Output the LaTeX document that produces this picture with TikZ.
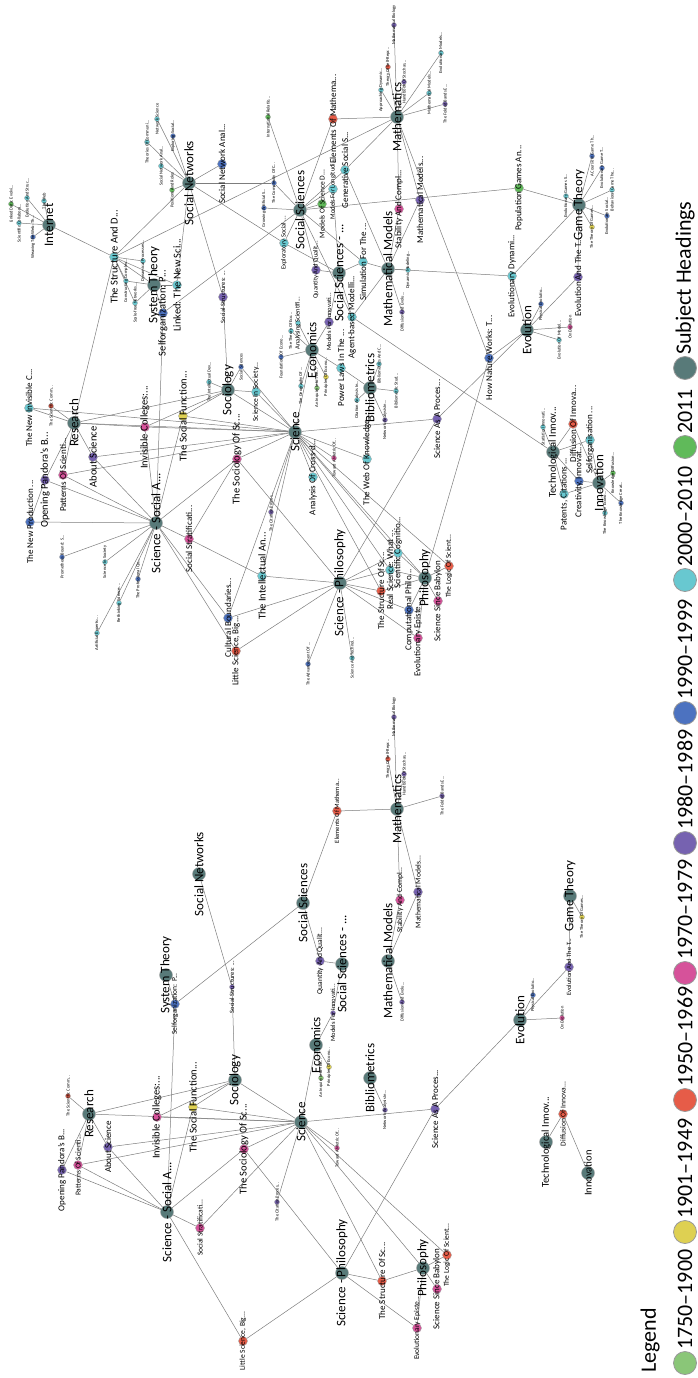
\documentclass[tikz,border=0pt]{standalone}
\usepackage{fontspec}
\setmainfont{Carlito}
\usetikzlibrary{backgrounds}

\definecolor{subjc}{RGB}{88,122,121}
\definecolor{yr2011}{RGB}{96,186,90}
\definecolor{yr2000}{RGB}{104,200,208}
\definecolor{yr1990}{RGB}{76,114,192}
\definecolor{yr1980}{RGB}{118,98,176}
\definecolor{yr1970}{RGB}{214,82,154}
\definecolor{yr1950}{RGB}{230,92,72}
\definecolor{yr1901}{RGB}{222,208,82}
\definecolor{yr1750}{RGB}{138,198,120}
\definecolor{edgec}{RGB}{125,125,125}

\tikzset{
  hub/.style={circle, draw=gray!70, fill=subjc, minimum size=13pt, inner sep=0pt},
  mid/.style={circle, draw=gray!70, fill=#1, minimum size=9pt, inner sep=0pt},
  sm/.style={circle, draw=gray!70, fill=#1, minimum size=5pt, inner sep=0pt},
  hlab/.style={label={[rotate=90, inner sep=0pt, font=\fontsize{13}{13}\selectfont]center:#1}},
  klab/.style={label={[rotate=90, inner sep=0pt, font=\fontsize{10.5}{10.5}\selectfont]center:#1}},
  mlab/.style={label={[rotate=90, inner sep=0pt, font=\fontsize{9}{9}\selectfont]center:#1}},
  nlab/.style={label={[rotate=90, inner sep=0pt, font=\fontsize{7.5}{7.5}\selectfont]center:#1}},
  llab/.style={label={[rotate=90, inner sep=0pt, font=\fontsize{6.5}{6.5}\selectfont]center:#1}},
  slab/.style={label={[rotate=90, inner sep=0pt, font=\fontsize{4.5}{4.5}\selectfont]center:#1}},
  link/.style={draw=edgec, line width=0.5pt},
  legdot/.style={circle, draw=gray!80, line width=0.8pt, fill=#1, minimum size=23pt, inner sep=0pt},
  legtxt/.style={rotate=90, anchor=west, inner sep=0pt, font=\fontsize{22}{22}\selectfont}
}

\begin{document}
\begin{tikzpicture}[x=1pt, y=-1pt]
  \useasboundingbox (0,0) rectangle (697,1378);

  % ---- full network: internet and networks
  \node[hub, hlab=Internet] (tInternet) at (49,225) {};
  \node[sm=yr2011, slab={Linked Data: Evolvi...}] (tLinkedData) at (11,204) {};
  \node[sm=yr2000, slab={Scientific Collabora...}] (tSciCollab) at (19,223) {};
  \node[sm=yr2000, slab={Evolution And Struc...}] (tEvolStruc) at (27,198) {};
  \node[sm=yr2000, slab={The Web}] (tWeb) at (44,201) {};
  \node[sm=yr1990, slab={Weaving The Web: Th...}] (tWeaving) at (33,237) {};
  \node[mid=yr2000, klab={The Structure And D...}] (tStructD) at (114,257) {};
  \node[sm=yr2000, slab={Constructing Complex...}] (tConstruct) at (126,281) {};
  \node[sm=yr2000, slab={Dynamical Processes...}] (tDynProc) at (143,261) {};
  \node[sm=yr2000, slab={Scale-free Networks...}] (tScaleFree) at (135,303) {};
  \node[hub, hlab={System Theory}] (tSysTheory) at (154,285) {};
  \node[mid=yr1990, klab={Selforganization: P...}] (tSelforg) at (163,313) {};
  \node[mid=yr2000, klab={Linked: The New Sci...}] (tLinked) at (177,285) {};
  \node[hub, hlab={Social Networks}] (tSocNet) at (189,183) {};
  \node[mid=yr1990, mlab={Social Network Anal...}] (tSNAbig) at (222,164) {};
  \node[mid=yr1980, llab={Social Structures: ...}] (tSocStruct) at (223,297) {};
  \node[sm=yr2000, slab={Theories Of Communi...}] (tTheories) at (147,142) {};
  \node[sm=yr2000, slab={Network Science}] (tNetSci) at (157,119) {};
  \node[sm=yr2000, slab={Social Network Anal...}] (tSNAsm) at (161,166) {};
  \node[sm=yr1990, slab={Exploring Social...}] (tExplSoc) at (173,136) {};
  \node[sm=yr2011, slab={Positions And Roles}] (tPositions) at (172,190) {};

  % ---- social sciences
  \node[sm=yr2011, slab={International Relatio...}] (tIntRel) at (268,117) {};
  \node[hub, hlab={Social Sciences}] (tSocSci) at (300,210) {};
  \node[sm=yr1990, slab={The Complexity Of C...}] (tComplexity) at (274,183) {};
  \node[sm=yr1990, slab={Growing Artificial S...}] (tGrowing) at (264,208) {};
  \node[mid=yr2000, llab={Exploratory Social ...}] (tExploratory) at (284,243) {};
  \node[mid=yr2011, nlab={Models Of Science D...}] (tModelsSci) at (322,204) {};
  \node[mid=yr2000, llab={Models For Longitudi...}] (tModelsLong) at (333,189) {};
  \node[mid=yr2000, mlab={Generative Social S...}] (tGenerative) at (345,170) {};
  \node[mid=yr1950, mlab={Elements Of Mathema...}] (tElements) at (333,119) {};
  \node[mid=yr1980, llab={Quantity And Qualit...}] (tQuantity) at (316,270) {};
  \node[hub, hlab={Social Sciences - ...}] (tSocSciD) at (339,273) {};
  \node[mid=yr2000, mlab={Simulation For The ...}] (tSimulation) at (363,262) {};
  \node[mid=yr2000, mlab={Agent-based Modelli...}] (tAgent) at (352,317) {};
  \node[mid=yr1980, llab={Models For Innovati...}] (tModelsInnov) at (329,322) {};

  % ---- mathematics
  \node[hub, hlab=Mathematics] (tMath) at (397,117) {};
  \node[sm=yr2000, slab={Approaching Dynamic...}] (tApproach) at (381,90) {};
  \node[sm=yr1950, slab={Theory Of Self-Repr...}] (tSelfRepr) at (388,67) {};
  \node[sm=yr1980, slab={Mathematical Biology}] (tMathBio) at (394,25) {};
  \node[sm=yr1980, slab={Handbook Of Stochas...}] (tHandbook) at (404,82) {};
  \node[sm=yr2000, slab={Evolutionary Models...}] (tEvolModels) at (441,53) {};
  \node[sm=yr2000, slab={Mathematical Models...}] (tMathModSm) at (429,93) {};
  \node[sm=yr1980, slab={The Folded Bands E...}] (tFolded) at (445,104) {};
  \node[hub, hlab={Mathematical Models}] (tMathMod) at (388,269) {};
  \node[mid=yr1970, mlab={Stability And Compl...}] (tStability) at (399,209) {};
  \node[mid=yr1980, mlab={Mathematical Models...}] (tMathModP) at (420,200) {};
  \node[sm=yr2000, slab={Dynamic Modeling...}] (tDynModel) at (408,270) {};
  \node[sm=yr1980, slab={Diffusion And Evolu...}] (tDiffEvol) at (402,312) {};

  % ---- game theory, evolution
  \node[mid=yr2011, mlab={Population Games An...}] (tPopGames) at (519,188) {};
  \node[hub, hlab={Game Theory}] (tGame) at (579,205) {};
  \node[mid=yr2000, mlab={Evolutionary Dynami...}] (tEvolDyn) at (512,276) {};
  \node[mid=yr1980, mlab={Evolution And The T...}] (tEvolTheT) at (578,277) {};
  \node[hub, hlab=Evolution] (tEvol) at (527,330) {};
  \node[sm=yr1990, slab={Physical Evolutio...}] (tPhysEvol) at (541,304) {};
  \node[sm=yr1970, slab={On Evolution}] (tOnEvol) at (570,327) {};
  \node[sm=yr2000, slab={Evolution Of Model...}] (tEvolModel) at (559,340) {};
  \node[sm=yr2000, slab={Evolutionary Games S...}] (tEvolGameSm) at (566,196) {};
  \node[sm=yr1990, slab={A Course In Game Th...}] (tCourse) at (592,156) {};
  \node[sm=yr1990, slab={Evolutionary Game T...}] (tEvolGame) at (602,168) {};
  \node[sm=yr2000, slab={Behavioral Game The...}] (tBehav) at (612,190) {};
  \node[sm=yr1990, slab={Evolutionary Social...}] (tEvolSoc) at (607,216) {};
  \node[sm=yr1901, slab={The Theory Of Games...}] (tTheoryGames) at (592,227) {};

  % ---- innovation
  \node[mid=yr1990, mlab={How Nature Works: T...}] (tHowNature) at (489,358) {};
  \node[hub, klab={Technological Innov...}] (tTechInnov) at (553,452) {};
  \node[sm=yr2000, slab={Statistical Innovati...}] (tStatInnov) at (543,427) {};
  \node[mid=yr1950, mlab={Diffusion Of Innova...}] (tDiffInnov) at (573,424) {};
  \node[mid=yr2000, mlab={Selforganisation ...}] (tSelforgan) at (590,440) {};
  \node[mid=yr1990, mlab={Creativity, Innovat...}] (tCreativity) at (579,481) {};
  \node[mid=yr2000, mlab={Patents, Citations ...}] (tPatents) at (564,494) {};
  \node[hub, hlab=Innovation] (tInnov) at (599,483) {};
  \node[sm=yr2011, slab={Knowledge Diffusion...}] (tKnowDiff) at (613,473) {};
  \node[sm=yr1990, slab={The Knowledge Creat...}] (tKnowCreat) at (621,503) {};
  \node[sm=yr2000, slab={The Knowledge Econo...}] (tKnowEcon) at (605,513) {};

  % ---- research, science and society
  \node[hub, hlab=Research] (tResearch) at (74,423) {};
  \node[mid=yr2000, mlab={The New Invisible C...}] (tNewInvis) at (29,408) {};
  \node[sm=yr1950, slab={The Scientific Comm...}] (tSciComm) at (51,406) {};
  \node[mid=yr1980, klab={About Science}] (tAbout) at (93,457) {};
  \node[mid=yr1980, klab={Opening Pandora's B...}] (tPandora) at (45,480) {};
  \node[mid=yr1970, mlab={Patterns Of Scienti...}] (tPatterns) at (63,475) {};
  \node[mid=yr1990, mlab={The New Production ...}] (tNewProd) at (30,522) {};
  \node[hub, hlab={Science - Social A...}] (tSciSoc) at (156,523) {};
  \node[mid=yr1970, klab={Invisible Colleges:...}] (tInvisible) at (145,427) {};
  \node[mid=yr1901, klab={The Social Function...}] (tSocFunc) at (183,416) {};
  \node[hub, hlab=Sociology] (tSociology) at (228,390) {};
  \node[sm=yr2000, slab={The Intellectual Dev...}] (tIntellDev) at (209,382) {};
  \node[sm=yr1990, slab={Prometheus Bound: S...}] (tPrometheus) at (62,557) {};
  \node[sm=yr2000, slab={Science In Society}] (tSciSociety) at (105,562) {};
  \node[sm=yr1990, slab={The Professional Qu...}] (tProfQu) at (138,579) {};
  \node[sm=yr2000, slab={Rethinking Science:...}] (tRethinking) at (119,603) {};
  \node[sm=yr2000, slab={Artificial Experts:...}] (tArtificial) at (97,633) {};
  \node[mid=yr1970, mlab={Social Stratificati...}] (tSocStrat) at (189,539) {};
  \node[mid=yr1990, mlab={Cultural Boundaries...}] (tCultural) at (228,618) {};
  \node[mid=yr1950, mlab={Little Science, Big...}] (tLittle) at (236,651) {};
  \node[mid=yr1970, klab={The Sociology Of Sc...}] (tSociolSc) at (237,459) {};

  % ---- science, economics, bibliometrics
  \node[hub, hlab=Science] (tScience) at (295,432) {};
  \node[mid=yr2000, nlab={Science In Society...}] (tSciInSoc) at (256,392) {};
  \node[sm=yr1990, slab={Social Sciences}] (tSocSciSm) at (241,367) {};
  \node[hub, hlab=Economics] (tEcon) at (312,350) {};
  \node[sm=yr1990, slab={Foundations Of Econo...}] (tFoundations) at (281,357) {};
  \node[sm=yr2000, slab={The Geography Of ...}] (tTheGeog) at (301,386) {};
  \node[sm=yr1750, slab={An Inquiry Into The...}] (tInquiry) at (317,388) {};
  \node[sm=yr1901, slab={Principles Of Econo...}] (tPrinciples) at (326,377) {};
  \node[sm=yr2000, llab={Analysing Scientifi...}] (tAnalysing) at (298,323) {};
  \node[sm=yr2000, slab={The Theory Of Eco...}] (tTheThe) at (291,331) {};
  \node[mid=yr2000, mlab={Power Laws In The ...}] (tPowerLaws) at (341,368) {};
  \node[hub, hlab=Bibliometrics] (tBiblio) at (370,388) {};
  \node[sm=yr2000, slab={Bibliometrics And C...}] (tBiblioC) at (379,364) {};
  \node[sm=yr2000, slab={Bibliometric Stud...}] (tBiblioS) at (396,391) {};
  \node[sm=yr2000, slab={Citation Analysis In...}] (tCitAn) at (357,400) {};
  \node[sm=yr1980, slab={Network Analysis In...}] (tNetAn) at (385,420) {};
  \node[mid=yr2000, mlab={The Web Of Knowledge...}] (tWebKnow) at (367,459) {};
  \node[mid=yr1980, mlab={Science As A Proces...}] (tSciProc) at (437,419) {};
  \node[mid=yr2000, mlab={Analysis Of Cross-d...}] (tCrossD) at (313,477) {};
  \node[sm=yr1970, slab={Toward A Metric Of...}] (tMetric) at (334,458) {};
  \node[sm=yr1980, slab={The Citation Proces...}] (tCitProc) at (271,512) {};

  % ---- philosophy
  \node[mid=yr2000, klab={The Intellectual An...}] (tIntellAn) at (262,576) {};
  \node[hub, hlab={Science - Philosophy}] (tSciPhil) at (340,583) {};
  \node[mid=yr1950, mlab={The Structure Of Sc...}] (tStructSc) at (381,591) {};
  \node[mid=yr2000, mlab={Real Science: What ...}] (tRealSci) at (390,570) {};
  \node[mid=yr2000, mlab={Scientific Cognitio...}] (tSciCog) at (398,553) {};
  \node[hub, hlab=Philosophy] (tPhil) at (425,578) {};
  \node[mid=yr1950, nlab={The Logic Of Scient...}] (tLogic) at (449,566) {};
  \node[mid=yr1970, mlab={Science Since Babylon}] (tBabylon) at (438,601) {};
  \node[mid=yr1990, mlab={Computational Philo...}] (tCompPhil) at (409,610) {};
  \node[mid=yr1970, mlab={Evolutionary Episte...}] (tEvolEpist) at (418,638) {};
  \node[sm=yr2000, slab={Science And Technol...}] (tSciTech) at (352,658) {};
  \node[sm=yr1990, slab={The Advancement Of ...}] (tAdvance) at (308,664) {};

  % ---- reduced network
  \node[hub, hlab={Social Networks}] (bSocNet) at (199,874) {};
  \node[hub, hlab={System Theory}] (bSysTheory) at (166,975) {};
  \node[mid=yr1990, nlab={Selforganization: P...}] (bSelforg) at (175,1004) {};
  \node[sm=yr1980, llab={Social Structures: ...}] (bSocStruct) at (232,987) {};
  \node[hub, hlab={Social Sciences}] (bSocSci) at (303,903) {};
  \node[mid=yr1950, llab={Elements Of Mathema...}] (bElements) at (337,811) {};
  \node[hub, hlab=Mathematics] (bMath) at (397,809) {};
  \node[sm=yr1950, slab={Theory Of Self-Repr...}] (bSelfRepr) at (388,759) {};
  \node[sm=yr1980, slab={Mathematical Biology}] (bMathBio) at (394,717) {};
  \node[sm=yr1980, slab={Handbook Of Stochas...}] (bHandbook) at (404,774) {};
  \node[sm=yr1980, slab={The Folded Bands E...}] (bFolded) at (442,796) {};
  \node[mid=yr1970, nlab={Stability And Compl...}] (bStability) at (400,900) {};
  \node[mid=yr1980, nlab={Mathematical Models...}] (bMathModP) at (418,892) {};
  \node[hub, hlab={Mathematical Models}] (bMathMod) at (388,961) {};
  \node[sm=yr1980, slab={Diffusion And Evolu...}] (bDiffEvol) at (402,1002) {};
  \node[mid=yr1980, nlab={Quantity And Qualit...}] (bQuantity) at (320,961) {};
  \node[hub, hlab={Social Sciences - ...}] (bSocSciD) at (342,964) {};
  \node[sm=yr1980, llab={Models For Innovati...}] (bModelsInnov) at (333,1013) {};
  \node[hub, hlab={Game Theory}] (bGame) at (570,896) {};
  \node[sm=yr1901, slab={The Theory Of Games...}] (bTheoryGames) at (582,917) {};
  \node[mid=yr1980, llab={Evolution And The T...}] (bEvolTheT) at (569,967) {};
  \node[hub, hlab=Evolution] (bEvol) at (520,1020) {};
  \node[sm=yr1990, slab={Physical Evolutio...}] (bPhysEvol) at (533,995) {};
  \node[sm=yr1970, slab={On Evolution}] (bOnEvol) at (562,1018) {};
  \node[hub, hlab=Research] (bResearch) at (89,1114) {};
  \node[sm=yr1950, slab={The Scientific Comm...}] (bSciComm) at (68,1096) {};
  \node[mid=yr1980, mlab={Opening Pandora's B...}] (bPandora) at (62,1170) {};
  \node[mid=yr1970, nlab={Patterns Of Scienti...}] (bPatterns) at (78,1165) {};
  \node[mid=yr1980, mlab={About Science}] (bAbout) at (108,1147) {};
  \node[mid=yr1970, klab={Invisible Colleges:...}] (bInvisible) at (157,1117) {};
  \node[mid=yr1901, klab={The Social Function...}] (bSocFunc) at (193,1107) {};
  \node[hub, hlab=Sociology] (bSociology) at (235,1080) {};
  \node[hub, hlab={Science - Social A...}] (bSciSoc) at (167,1212) {};
  \node[mid=yr1970, nlab={Social Stratificati...}] (bSocStrat) at (200,1228) {};
  \node[hub, hlab=Economics] (bEcon) at (316,1045) {};
  \node[sm=yr1750, slab={An Inquiry Into The...}] (bInquiry) at (321,1078) {};
  \node[sm=yr1901, slab={Principles Of Econo...}] (bPrinciples) at (329,1067) {};
  \node[hub, hlab=Bibliometrics] (bBiblio) at (370,1078) {};
  \node[sm=yr1980, slab={Network Analysis In...}] (bNetAn) at (385,1110) {};
  \node[mid=yr1980, mlab={Science As A Proces...}] (bSciProc) at (435,1109) {};
  \node[hub, hlab=Science] (bScience) at (301,1122) {};
  \node[mid=yr1970, klab={The Sociology Of Sc...}] (bSociolSc) at (244,1149) {};
  \node[sm=yr1970, slab={Toward A Metric Of...}] (bMetric) at (337,1148) {};
  \node[sm=yr1980, slab={The Citation Proces...}] (bCitProc) at (277,1202) {};
  \node[hub, hlab={Science - Philosophy}] (bSciPhil) at (342,1273) {};
  \node[mid=yr1950, mlab={The Structure Of Sc...}] (bStructSc) at (382,1281) {};
  \node[hub, hlab=Philosophy] (bPhil) at (423,1268) {};
  \node[mid=yr1950, nlab={The Logic Of Scient...}] (bLogic) at (447,1255) {};
  \node[mid=yr1970, mlab={Science Since Babylon}] (bBabylon) at (437,1289) {};
  \node[mid=yr1970, nlab={Evolutionary Episte...}] (bEvolEpist) at (417,1328) {};
  \node[mid=yr1950, nlab={Little Science, Big...}] (bLittle) at (243,1341) {};
  \node[hub, klab={Technological Innov...}] (bTechInnov) at (546,1142) {};
  \node[mid=yr1950, nlab={Diffusion Of Innova...}] (bDiffInnov) at (563,1114) {};
  \node[hub, klab=Innovation] (bInnov) at (588,1173) {};

  % ---- connectors
  \begin{scope}[on background layer]
    \foreach \n in {tLinkedData,tSciCollab,tEvolStruc,tWeb,tWeaving,tStructD}
      \draw[link] (tInternet) -- (\n);
    \foreach \n in {tSocNet,tConstruct,tDynProc,tScaleFree,tSysTheory,tResearch,tMath,tLinked}
      \draw[link] (tStructD) -- (\n);
    \foreach \n in {tSelforg,tConstruct,tScaleFree,tLinked}
      \draw[link] (tSysTheory) -- (\n);
    \foreach \n in {tTheories,tNetSci,tSNAsm,tExplSoc,tPositions,tSNAbig,tSocStruct,tComplexity,tExploratory,tLinked}
      \draw[link] (tSocNet) -- (\n);
    \foreach \n in {tSocSci,tSciSoc}
      \draw[link] (tSelforg) -- (\n);
    \draw[link] (tSocStruct) -- (tSociology);
    \foreach \n in {tIntRel,tComplexity,tGrowing,tExploratory,tModelsSci,tModelsLong,tGenerative,tElements,tQuantity,tSimulation,tPopGames,tAgent}
      \draw[link] (tSocSci) -- (\n);
    \foreach \n in {tQuantity,tModelsInnov,tSimulation,tAgent,tModelsLong,tExploratory}
      \draw[link] (tSocSciD) -- (\n);
    \foreach \n in {tElements,tApproach,tSelfRepr,tMathBio,tHandbook,tEvolModels,tMathModSm,tFolded,tStability,tMathModP,tGenerative,tHowNature}
      \draw[link] (tMath) -- (\n);
    \foreach \n in {tStability,tMathModP,tDynModel,tDiffEvol,tSimulation,tGenerative,tEvolDyn,tAgent}
      \draw[link] (tMathMod) -- (\n);
    \foreach \n in {tPopGames,tEvolDyn,tEvolGameSm,tCourse,tEvolGame,tBehav,tEvolSoc,tTheoryGames,tEvolTheT}
      \draw[link] (tGame) -- (\n);
    \foreach \n in {tEvolDyn,tEvolTheT,tPhysEvol,tOnEvol,tEvolModel,tHowNature,tSciProc}
      \draw[link] (tEvol) -- (\n);
    \foreach \n in {tStatInnov,tDiffInnov,tSelforgan,tCreativity,tPatents,tAgent}
      \draw[link] (tTechInnov) -- (\n);
    \foreach \n in {tDiffInnov,tSelforgan,tCreativity,tPatents,tKnowDiff,tKnowCreat,tKnowEcon}
      \draw[link] (tInnov) -- (\n);
    \draw[link] (tHowNature) -- (tPhil);
    \foreach \n in {tNewInvis,tSciComm,tAbout,tPandora,tPatterns,tScience,tSociology,tInvisible}
      \draw[link] (tResearch) -- (\n);
    \foreach \n in {tPrometheus,tSciSociety,tProfQu,tRethinking,tArtificial,tSocStrat,tCultural,tLittle,tSociolSc,tPandora,tPatterns,tAbout,tNewProd,tSocFunc,tInvisible}
      \draw[link] (tSciSoc) -- (\n);
    \draw[link] (tPandora) -- (tNewProd);
    \draw[link] (tNewInvis) -- (tScience);
    \foreach \n in {tIntellDev,tSocFunc,tInvisible,tScience,tSciInSoc,tSocSciSm}
      \draw[link] (tSociology) -- (\n);
    \foreach \n in {tSociolSc,tIntellAn}
      \draw[link] (tSocStrat) -- (\n);
    \foreach \n in {tSciInSoc,tSocSciSm,tEcon,tWebKnow,tSciProc,tCrossD,tMetric,tCitProc,tIntellAn,tStructSc,tRealSci,tSciCog,tPhil,tLogic,tSocFunc,tInvisible,tAbout,tPatterns,tSociolSc,tCultural}
      \draw[link] (tScience) -- (\n);
    \foreach \n in {tFoundations,tTheGeog,tInquiry,tPrinciples,tAnalysing,tTheThe,tModelsInnov,tPowerLaws}
      \draw[link] (tEcon) -- (\n);
    \foreach \n in {tBiblioC,tBiblioS,tCitAn,tNetAn,tPowerLaws,tWebKnow}
      \draw[link] (tBiblio) -- (\n);
    \foreach \n in {tIntellAn,tLittle,tSociolSc,tStructSc,tRealSci,tSciCog,tCompPhil,tEvolEpist,tSciTech,tAdvance,tSciProc,tCultural}
      \draw[link] (tSciPhil) -- (\n);
    \foreach \n in {tStructSc,tRealSci,tSciCog,tLogic,tBabylon,tCompPhil,tEvolEpist}
      \draw[link] (tPhil) -- (\n);

    % reduced network
    \draw[link] (bSocNet) -- (bSocStruct);
    \draw[link] (bSocStruct) -- (bSociology);
    \draw[link] (bSysTheory) -- (bSelforg);
    \foreach \n in {bSocSci,bSciSoc}
      \draw[link] (bSelforg) -- (\n);
    \foreach \n in {bElements,bQuantity}
      \draw[link] (bSocSci) -- (\n);
    \foreach \n in {bElements,bSelfRepr,bMathBio,bHandbook,bFolded,bStability,bMathModP}
      \draw[link] (bMath) -- (\n);
    \foreach \n in {bStability,bMathModP,bDiffEvol}
      \draw[link] (bMathMod) -- (\n);
    \foreach \n in {bQuantity,bModelsInnov}
      \draw[link] (bSocSciD) -- (\n);
    \foreach \n in {bModelsInnov,bScience,bInquiry,bPrinciples}
      \draw[link] (bEcon) -- (\n);
    \draw[link] (bBiblio) -- (bNetAn);
    \foreach \n in {bScience,bEvol,bSciPhil}
      \draw[link] (bSciProc) -- (\n);
    \foreach \n in {bPhysEvol,bOnEvol,bEvolTheT}
      \draw[link] (bEvol) -- (\n);
    \draw[link] (bEvolTheT) -- (bGame);
    \draw[link] (bGame) -- (bTheoryGames);
    \draw[link] (bTechInnov) -- (bDiffInnov);
    \draw[link] (bDiffInnov) -- (bInnov);
    \foreach \n in {bSciComm,bPandora,bPatterns,bAbout,bScience,bSociology}
      \draw[link] (bResearch) -- (\n);
    \foreach \n in {bPandora,bPatterns,bAbout,bSocFunc,bSociolSc,bSocStrat,bLittle}
      \draw[link] (bSciSoc) -- (\n);
    \foreach \n in {bSocStrat,bPatterns,bAbout,bInvisible,bSocFunc,bSociology,bSociolSc,bMetric,bStructSc,bPhil,bLogic,bCitProc}
      \draw[link] (bScience) -- (\n);
    \foreach \n in {bInvisible,bSocFunc}
      \draw[link] (bSociology) -- (\n);
    \draw[link] (bSociolSc) -- (bSciPhil);
    \foreach \n in {bLittle,bStructSc,bEvolEpist}
      \draw[link] (bSciPhil) -- (\n);
    \foreach \n in {bStructSc,bBabylon,bLogic,bEvolEpist}
      \draw[link] (bPhil) -- (\n);
  \end{scope}

  % ---- legend
  \node[legtxt] (legTitle) at (650,1373) {Legend};
  \node[legdot=yr1750] (leg1) at (685,1363) {};
  \node[legtxt] (legT1) at (685,1350) {1750--1900};
  \node[legdot=yr1901] (leg2) at (685,1232) {};
  \node[legtxt] (legT2) at (685,1219) {1901--1949};
  \node[legdot=yr1950] (leg3) at (685,1100) {};
  \node[legtxt] (legT3) at (685,1087) {1950--1969};
  \node[legdot=yr1970] (leg4) at (685,973) {};
  \node[legtxt] (legT4) at (685,960) {1970--1979};
  \node[legdot=yr1980] (leg5) at (685,843) {};
  \node[legtxt] (legT5) at (685,830) {1980--1989};
  \node[legdot=yr1990] (leg6) at (685,713) {};
  \node[legtxt] (legT6) at (685,700) {1990--1999};
  \node[legdot=yr2000] (leg7) at (685,580) {};
  \node[legtxt] (legT7) at (685,567) {2000--2010};
  \node[legdot=yr2011] (leg8) at (685,447) {};
  \node[legtxt] (legT8) at (685,434) {2011};
  \node[legdot=subjc] (leg9) at (685,368) {};
  \node[legtxt] (legT9) at (685,355) {Subject Headings};
\end{tikzpicture}
\end{document}
